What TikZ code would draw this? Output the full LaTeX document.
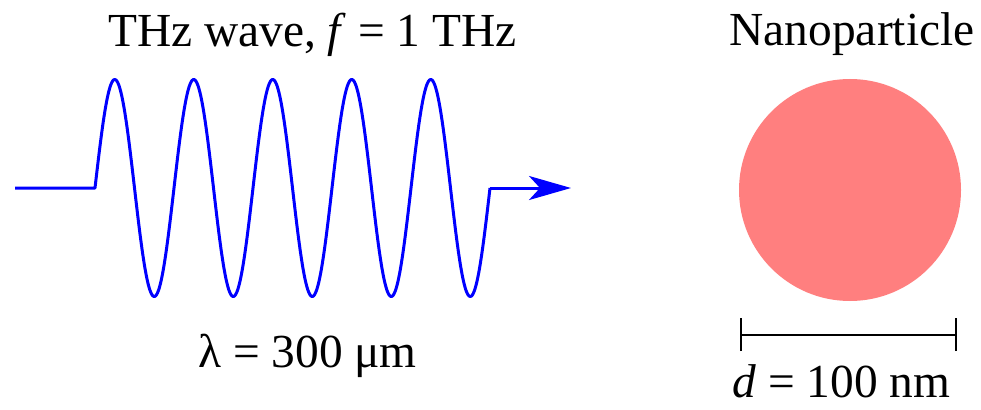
\documentclass[tikz,border=0pt]{standalone}
\usepackage{fontspec}
\setmainfont{Liberation Serif}
\usetikzlibrary{arrows.meta}
\definecolor{wave}{RGB}{0,0,255}
\definecolor{particle}{RGB}{255,127,127}
\begin{document}
\begin{tikzpicture}[x=1pt,y=-1pt,
  lbl/.style={anchor=base,inner sep=0pt,font=\fontsize{47.4}{52}\selectfont},
  wavestyle/.style={draw=wave,line width=3pt,line join=round}]
\useasboundingbox (0,0) rectangle (981,409);
% wave
\coordinate (w0) at (15,188);
\coordinate (w1) at (95,188);
\coordinate (w2) at (490,188);
\coordinate (w3) at (571,188);
\draw[wavestyle] (w0) -- (w1)
  -- plot[domain=0:395,samples=400,smooth] ({95+\x},{188-108.5*sin(4.556962*\x)})
  -- (w2);
\draw[wavestyle,-{Stealth[length=42pt,width=24pt,inset=11pt]}] (w2) -- (w3);
\node[lbl] (title) at (312.5,47) {THz wave, \textit{f} = 1 THz};
\node[lbl] (lambda) at (307.5,367) {λ = 300 μm};
% particle
\node[circle,fill=particle,minimum size=222pt,inner sep=0pt] (np) at (850,190) {};
\node[lbl] (nplabel) at (852,46) {Nanoparticle};
\coordinate (b1) at (741,335);
\coordinate (b2) at (956,335);
\draw[line width=2pt] (b1) -- (b2);
\draw[line width=2pt] ([yshift=-16pt]b1) -- ([yshift=17pt]b1);
\draw[line width=2pt] ([yshift=-16pt]b2) -- ([yshift=17pt]b2);
\node[lbl] (dlabel) at (841.5,397) {\textit{d} = 100 nm};
\end{tikzpicture}
\end{document}
